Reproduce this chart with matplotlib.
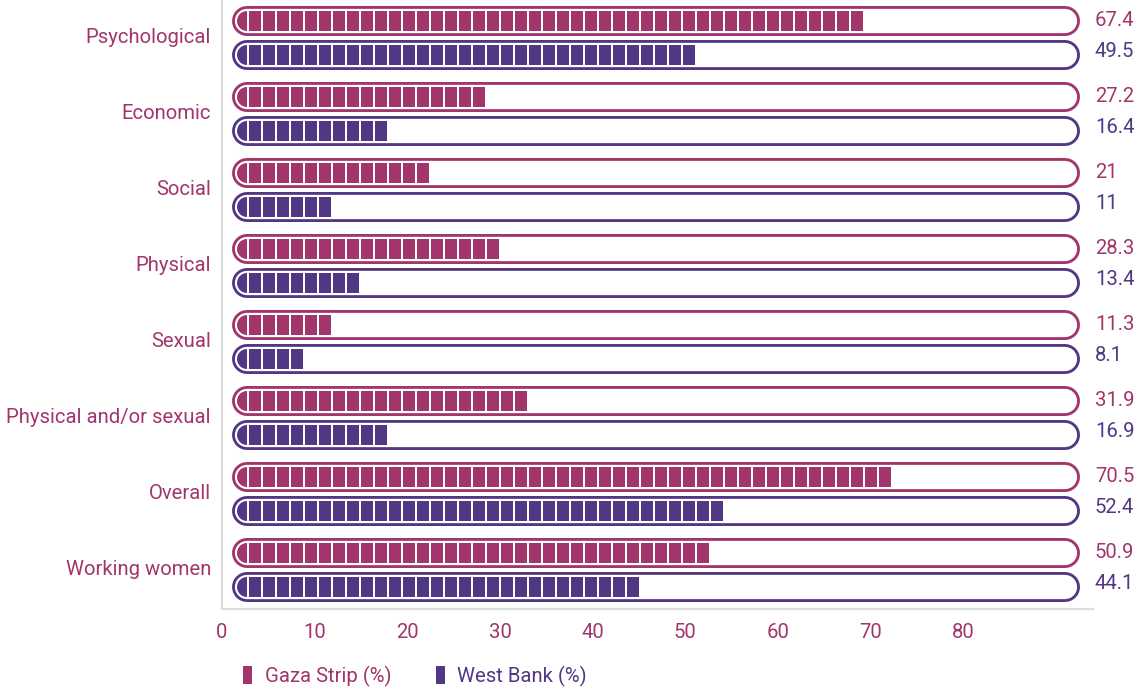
import matplotlib
matplotlib.use("Agg")
import matplotlib.pyplot as plt
from matplotlib.patches import Rectangle, Wedge, Patch
from matplotlib.transforms import ScaledTranslation

plt.rcParams['font.family'] = ['Roboto', 'DejaVu Sans']

# Dane
categories = ["Psychological", "Economic", "Social", "Physical", "Sexual",
              "Physical and/or sexual", "Overall", "Working women"]
gaza = [67.4, 27.2, 21, 28.3, 11.3, 31.9, 70.5, 50.9]
west_bank = [49.5, 16.4, 11, 13.4, 8.1, 16.9, 52.4, 44.1]
gaza_labels = ["67.4", "27.2", "21", "28.3", "11.3", "31.9", "70.5", "50.9"]
wb_labels = ["49.5", "16.4", "11", "13.4", "8.1", "16.9", "52.4", "44.1"]
xticks = [0, 10, 20, 30, 40, 50, 60, 70, 80]

MAGENTA = "#a2356c"
PURPLE = "#513784"
GREY = "#dcdcdc"
FS = 14.6

fig = plt.figure(figsize=(11.39, 6.90), dpi=100)
ax = fig.add_axes([222 / 1139, 81 / 690, 871 / 1139, 609 / 690])
ax.set_xlim(0, 94)
ax.set_ylim(7.513, -0.5)

# geometria "kapsuł" (w jednostkach danych)
track_x0, track_x1 = 2.70, 90.94
sq_start, sq_pitch, sq_w = 2.91, 1.51, 1.29
sq_h = 0.263
pad = 1.8
offset = 0.2237


def draw_row(y, value, color):
    ax.plot([track_x0, track_x1], [y, y], color=color, lw=21.6,
            solid_capstyle='round', zorder=2)
    ax.plot([track_x0, track_x1], [y, y], color="white", lw=17.5,
            solid_capstyle='round', zorder=3)
    # półokrągły początek paska
    tr = fig.dpi_scale_trans + ScaledTranslation(track_x0, y, ax.transData)
    ax.add_patch(Wedge((0, 0), 0.1, 90, 270, transform=tr,
                       facecolor=color, edgecolor="none", zorder=4))
    # kwadraciki
    x = sq_start
    while x + sq_w <= value + pad:
        ax.add_patch(Rectangle((x, y - sq_h / 2), sq_w, sq_h,
                               facecolor=color, edgecolor="none", zorder=4))
        x += sq_pitch


for i in range(len(categories)):
    draw_row(i - offset, gaza[i], MAGENTA)
    draw_row(i + offset, west_bank[i], PURPLE)
    ax.text(94.2, i - offset - 0.01, gaza_labels[i], color=MAGENTA,
            fontsize=FS, va='center', ha='left', clip_on=False)
    ax.text(94.2, i + offset - 0.04, wb_labels[i], color=PURPLE,
            fontsize=FS, va='center', ha='left', clip_on=False)

ax.set_yticks([i - 0.03 for i in range(len(categories))])
ax.set_yticklabels(categories, color=MAGENTA, fontsize=FS)
ax.set_xticks(xticks)
ax.set_xticklabels([str(t) for t in xticks], color=MAGENTA, fontsize=FS)
ax.tick_params(axis='both', length=0)
ax.tick_params(axis='y', pad=8)
ax.tick_params(axis='x', pad=10)

for s in ["top", "right"]:
    ax.spines[s].set_visible(False)
for s in ["left", "bottom"]:
    ax.spines[s].set_color(GREY)
    ax.spines[s].set_linewidth(1.6)

handles = [Patch(facecolor=MAGENTA, edgecolor="none"),
           Patch(facecolor=PURPLE, edgecolor="none")]
leg = fig.legend(handles, ["Gaza Strip (%)", "West Bank (%)"], ncol=2,
                 loc='center left', bbox_to_anchor=(225 / 1139, 14 / 690),
                 frameon=False, fontsize=FS, handlelength=0.45,
                 handleheight=1.0, handletextpad=0.6, columnspacing=2.2)
for t, c in zip(leg.get_texts(), [MAGENTA, PURPLE]):
    t.set_color(c)

plt.savefig("out.png", dpi=100)
